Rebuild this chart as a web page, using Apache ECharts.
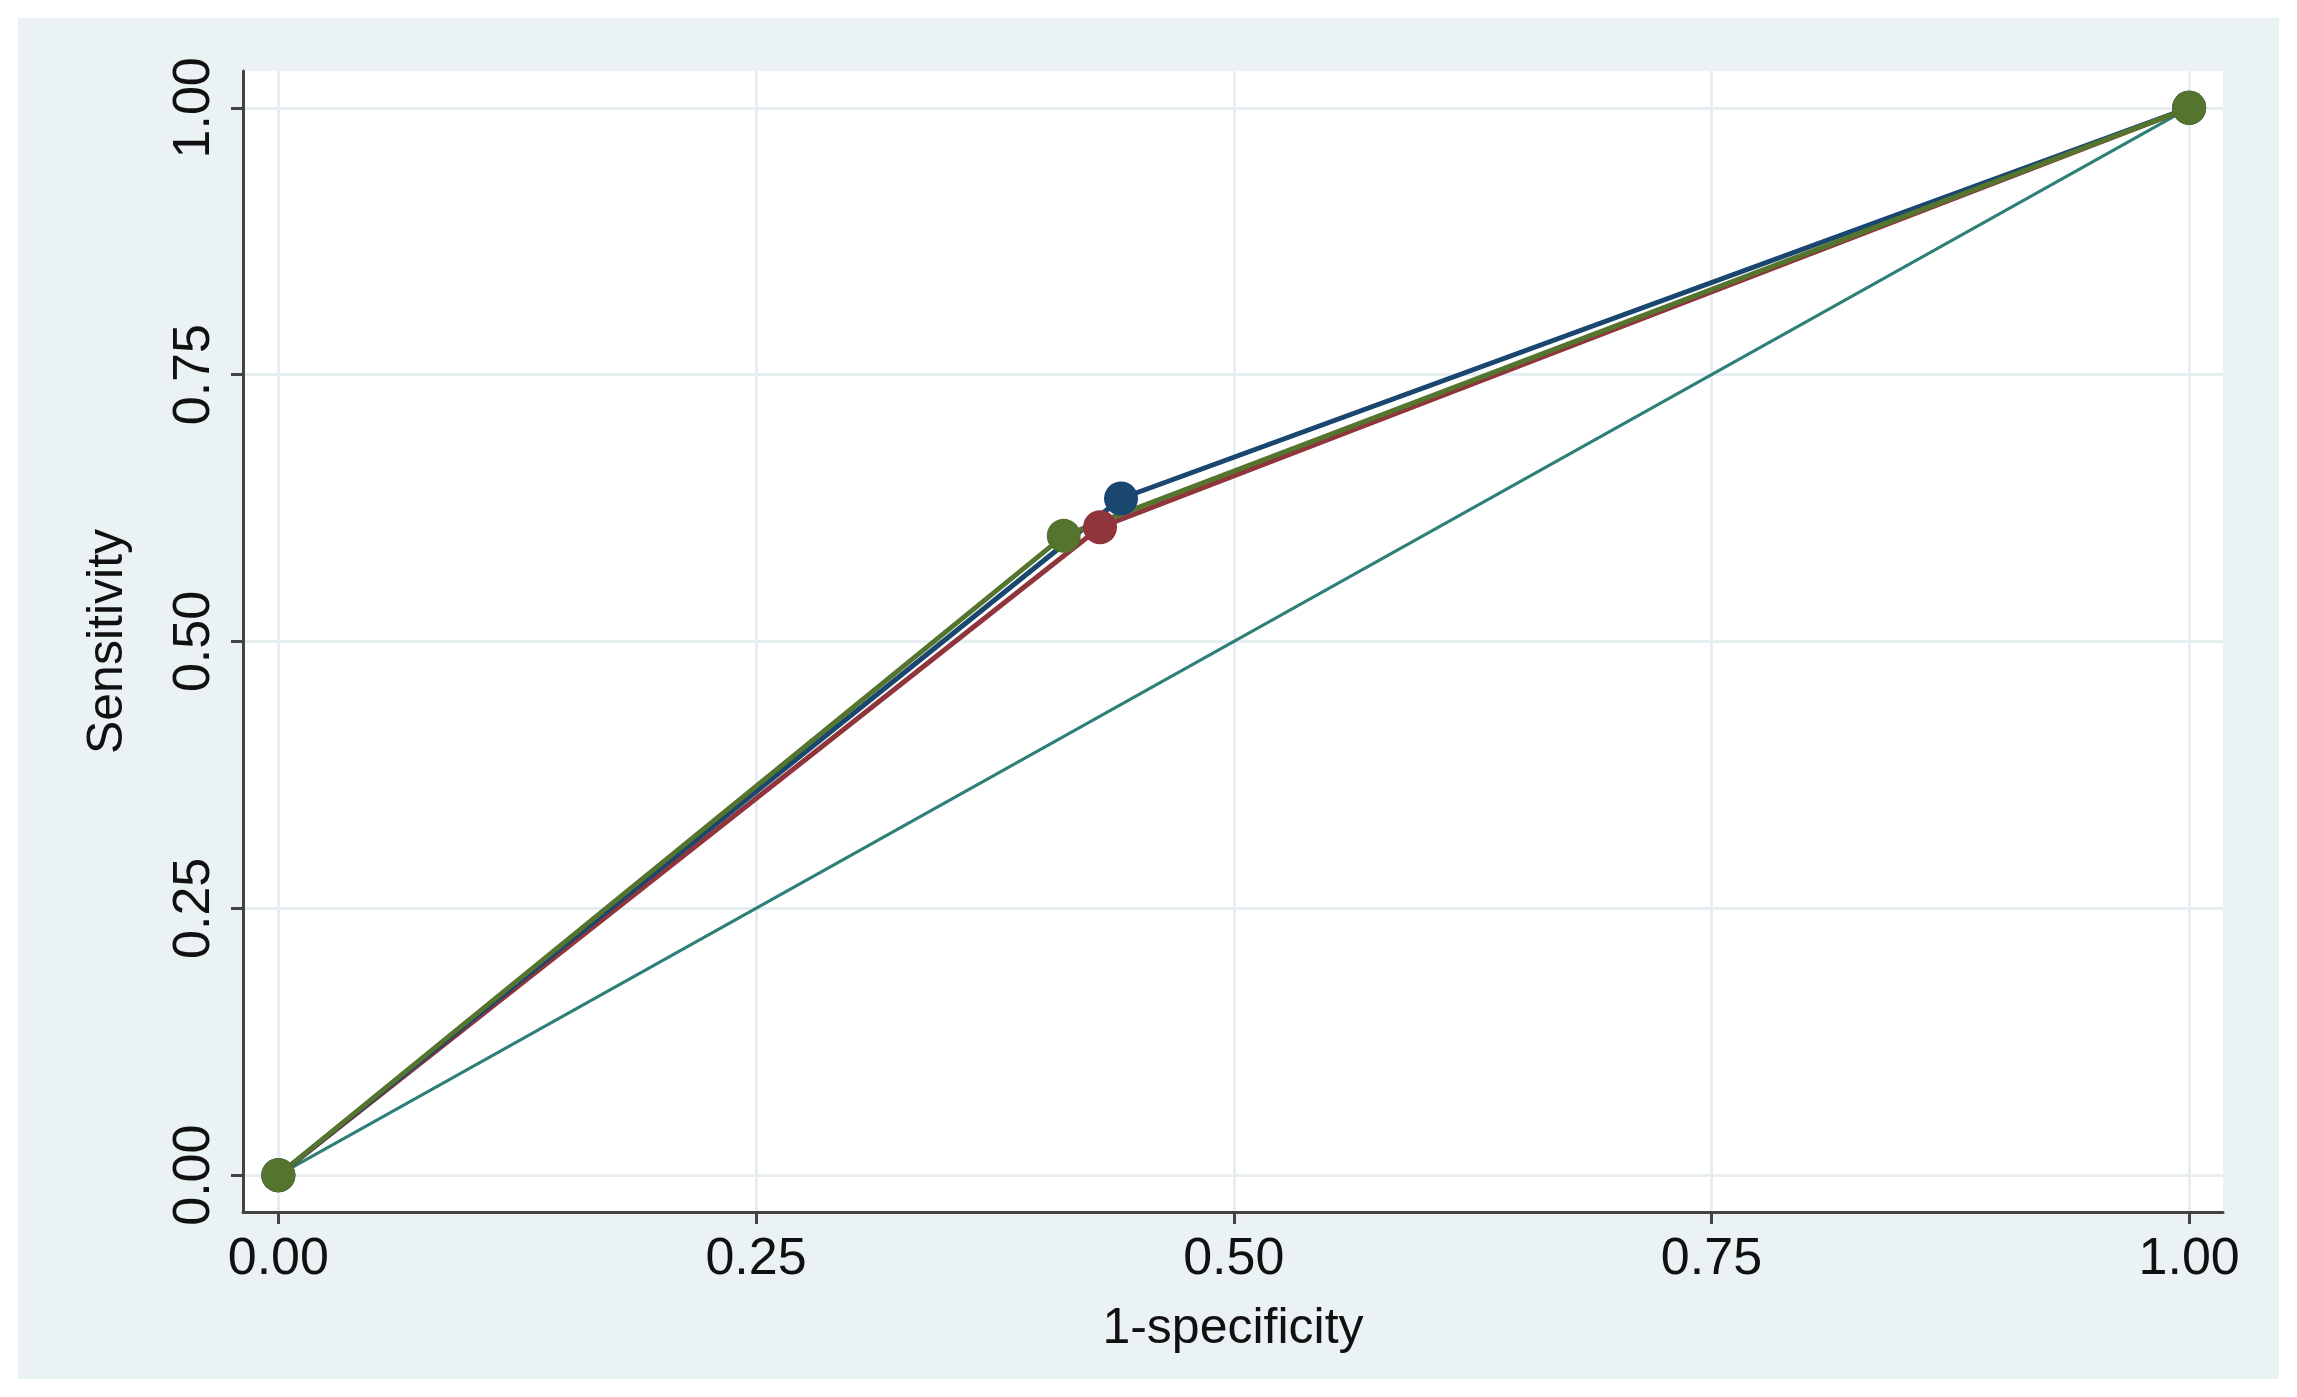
<!DOCTYPE html>
<html><head><meta charset="utf-8">
<script src="https://cdn.jsdelivr.net/npm/echarts@6/dist/echarts.min.js"></script>
<style>html,body{margin:0;padding:0;background:#fff}#c{position:absolute;left:18px;top:18px;width:2261px;height:1361px;background:#eaf2f3}</style>
</head><body><div id="c"></div>
<script>
const tickValues = [0, 0.25, 0.5, 0.75, 1];
const tickLabels = ['0.00', '0.25', '0.50', '0.75', '1.00'];
const blueX = [0, 0.441, 1], blueY = [0, 0.634, 1];
const redX = [0, 0.430, 1], redY = [0, 0.607, 1];
const greenX = [0, 0.411, 1], greenY = [0, 0.599, 1];
const refX = [0, 1], refY = [0, 1];
const zip = (a, b) => a.map((v, i) => [v, b[i]]);
const fmt = v => { const i = tickValues.findIndex(t => Math.abs(t - v) < 1e-6); return i >= 0 ? tickLabels[i] : ''; };
const chart = echarts.init(document.getElementById('c'));
const font = 'Liberation Sans';
const axisCommon = {
  type: 'value',
  axisLine: { show: true, onZero: false, lineStyle: { color: '#444', width: 3 } },
  axisTick: { show: true, customValues: tickValues, length: 12, lineStyle: { color: '#444', width: 3 } },
  splitLine: { show: true, lineStyle: { color: '#e6eef1', width: 3 } },
  nameLocation: 'middle',
  nameTextStyle: { fontFamily: font, fontSize: 50, color: '#111' }
};
chart.setOption({
  animation: false,
  grid: { left: 225, right: 56, top: 53, bottom: 167, show: true, backgroundColor: '#ffffff', borderWidth: 0 },
  xAxis: Object.assign({}, axisCommon, {
    min: -0.0185, max: 1.0177, name: '1-specificity', nameGap: 92,
    axisLabel: { customValues: tickValues, formatter: fmt, fontFamily: font, fontSize: 52, color: '#111', margin: 22 }
  }),
  yAxis: Object.assign({}, axisCommon, {
    min: -0.0345, max: 1.0345, name: 'Sensitivity', nameGap: 110,
    axisLabel: { customValues: tickValues, formatter: fmt, fontFamily: font, fontSize: 52, color: '#111', rotate: 90, margin: 22 }
  }),
  series: [
    { type: 'line', data: zip(refX, refY), symbol: 'none', lineStyle: { color: '#2d7f77', width: 3 } },
    { type: 'line', data: zip(redX, redY), symbol: 'circle', symbolSize: 34, itemStyle: { color: '#90353b' }, lineStyle: { color: '#90353b', width: 5 } },
    { type: 'line', data: zip(blueX, blueY), symbol: 'circle', symbolSize: 34, itemStyle: { color: '#1a476f' }, lineStyle: { color: '#1a476f', width: 5 } },
    { type: 'line', data: zip(greenX, greenY), symbol: 'circle', symbolSize: 34, itemStyle: { color: '#55752f' }, lineStyle: { color: '#55752f', width: 5 } }
  ]
});
</script></body></html>
